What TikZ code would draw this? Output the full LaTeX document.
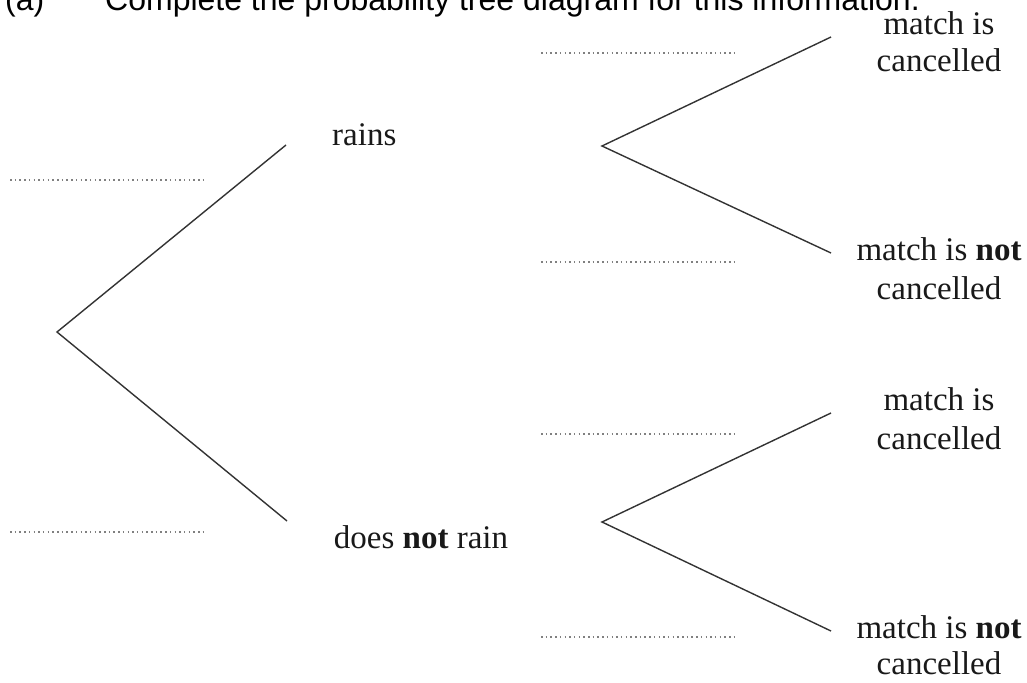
\documentclass[tikz,border=0pt]{standalone}
\usepackage{fontspec}
\setmainfont{Liberation Serif}
\newfontfamily\titlefont{Liberation Sans}
\begin{document}
\begin{tikzpicture}[x=1pt,y=-1pt,
  lab/.style={font=\fontsize{33}{38}\selectfont, text=black!90, inner sep=0pt, anchor=base},
  ttl/.style={font=\titlefont\fontsize{32}{38}\selectfont, inner sep=0pt, anchor=base west},
  branch/.style={draw=black!80, line width=1.4pt},
  blank/.style={draw=black!50, line width=1.5pt, dash pattern=on 1.5pt off 3.2pt}]
\useasboundingbox (0,0) rectangle (1027,682);
\clip (0,0) rectangle (1027,682);
% title (cut off at the top edge, as in the reference)
\node[ttl] (ta) at (5,11) {(a)};
\node[ttl] (tb) at (105,11) {Complete the probability tree diagram for this information.};
% tree points
\coordinate (root) at (57,332);
\coordinate (r) at (286,145);
\coordinate (nr) at (287,521);
\coordinate (f1) at (602,146);
\coordinate (f2) at (602,522);
\coordinate (e1) at (831,37);
\coordinate (e2) at (831,253);
\coordinate (e3) at (831,413);
\coordinate (e4) at (831,631);
\draw[branch] (r) -- (root) -- (nr);
\draw[branch] (e1) -- (f1) -- (e2);
\draw[branch] (e3) -- (f2) -- (e4);
% labels
\node[lab, anchor=base west] (rains) at (332,145) {rains};
\node[lab] (dnr) at (421,548) {does \textbf{not} rain};
\node[lab] (m1a) at (939,35) {match is};
\node[lab] (m1b) at (939,72) {cancelled};
\node[lab] (m2a) at (939,260) {match is \textbf{not}};
\node[lab] (m2b) at (939,299) {cancelled};
\node[lab] (m3a) at (939,410) {match is};
\node[lab] (m3b) at (939,449) {cancelled};
\node[lab] (m4a) at (939,638) {match is \textbf{not}};
\node[lab] (m4b) at (939,674) {cancelled};
% answer blanks
\coordinate (b1s) at (10,180); \coordinate (b1e) at (205,180);
\coordinate (b2s) at (10,532); \coordinate (b2e) at (205,532);
\coordinate (b3s) at (541,53); \coordinate (b3e) at (738,53);
\coordinate (b4s) at (541,262); \coordinate (b4e) at (738,262);
\coordinate (b5s) at (541,434); \coordinate (b5e) at (738,434);
\coordinate (b6s) at (541,637); \coordinate (b6e) at (738,637);
\foreach \i in {1,...,6} {\draw[blank] (b\i s) -- (b\i e);}
\end{tikzpicture}
\end{document}
